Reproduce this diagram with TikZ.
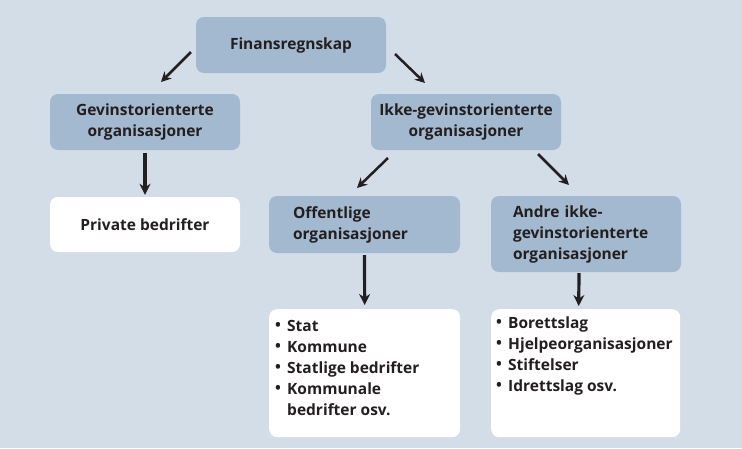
\documentclass[tikz,border=0pt]{standalone}
\usepackage{fontspec}
\setmainfont{Open Sans}
\usepackage{graphicx}
\usetikzlibrary{arrows.meta}
\definecolor{bgc}{HTML}{D3DDE8}
\definecolor{boxc}{HTML}{A3B9CF}
\definecolor{txtc}{HTML}{231F20}
\newcommand\lsitem[1]{\par\hangindent=12pt\hangafter=1\noindent\makebox[12pt][l]{\raisebox{0.3pt}{\scalebox{1.0}{•}}}#1}
\begin{document}
\begin{tikzpicture}[x=1pt,y=-1pt,
 every node/.style={font=\fontsize{15.5}{21}\selectfont\bfseries, text=txtc},
 hbox/.style={fill=boxc, rounded corners=8pt, minimum width=190pt, minimum height=56pt, inner sep=0pt, align=center},
 wbox/.style={fill=white, rounded corners=8pt, inner sep=0pt},
 darr/.style={-{Stealth[length=10pt,width=10pt]}, line width=2.5pt, draw=txtc},
 varr/.style={-{Stealth[length=11pt,width=11pt]}, line width=3.2pt, draw=txtc}]
\fill[bgc] (0,0) rectangle (742,448);
\useasboundingbox (0,0) rectangle (742,448);
\node[hbox] (fin) at (291,45) {Finansregnskap};
\node[hbox] (gev) at (145,122) {Gevinstorienterte\\organisasjoner};
\node[wbox, minimum width=190pt, minimum height=55pt, align=center] (priv) at (145,224.5) {Private bedrifter};
\node[hbox] (ikke) at (466,122) {Ikke-gevinstorienterte\\organisasjoner};
\node[hbox, minimum width=191pt, minimum height=57pt, text width=143pt, align=left] (off) at (364.5,224.5) {Offentlige\\organisasjoner};
\node[hbox, minimum height=76pt, text width=146pt, align=left] (andre) at (586,234) {Andre ikke-\\gevinstorienterte\\organisasjoner};
\node[wbox, anchor=north west] (offl) at (269,309) {\begin{minipage}[t][128pt][t]{191pt}\hspace*{6pt}\begin{minipage}[t]{180pt}%
\lsitem{\rule{0pt}{22pt}Stat}\lsitem{Kommune}\lsitem{Statlige bedrifter}\lsitem{Kommunale\newline bedrifter osv.}\end{minipage}\end{minipage}};
\node[wbox, anchor=north west] (andrel) at (491,309) {\begin{minipage}[t][128pt][t]{189pt}\hspace*{5pt}\begin{minipage}[t]{182pt}%
\lsitem{\rule{0pt}{19pt}Borettslag}\lsitem{Hjelpeorganisasjoner}\lsitem{Stiftelser}\lsitem{Idrettslag osv.}\end{minipage}\end{minipage}};
\coordinate (a1s) at (191,52); \coordinate (a1e) at (161,82);
\coordinate (a2s) at (395,54); \coordinate (a2e) at (425,83);
\coordinate (a3s) at (388,158); \coordinate (a3e) at (357,188);
\coordinate (a4s) at (538,154); \coordinate (a4e) at (569,185);
\draw[darr] (a1s) -- (a1e);
\draw[darr] (a2s) -- (a2e);
\draw[darr] (a3s) -- (a3e);
\draw[darr] (a4s) -- (a4e);
\draw[varr, shorten <=3pt, shorten >=2pt] (gev.south) -- (priv.north);
\draw[varr, shorten <=2pt, shorten >=4pt] (off.south) -- (offl.north);
\draw[varr, shorten <=1pt, shorten >=3pt] ([xshift=-7pt]andre.south) -- ([xshift=-7pt]andrel.north);
\end{tikzpicture}
\end{document}
